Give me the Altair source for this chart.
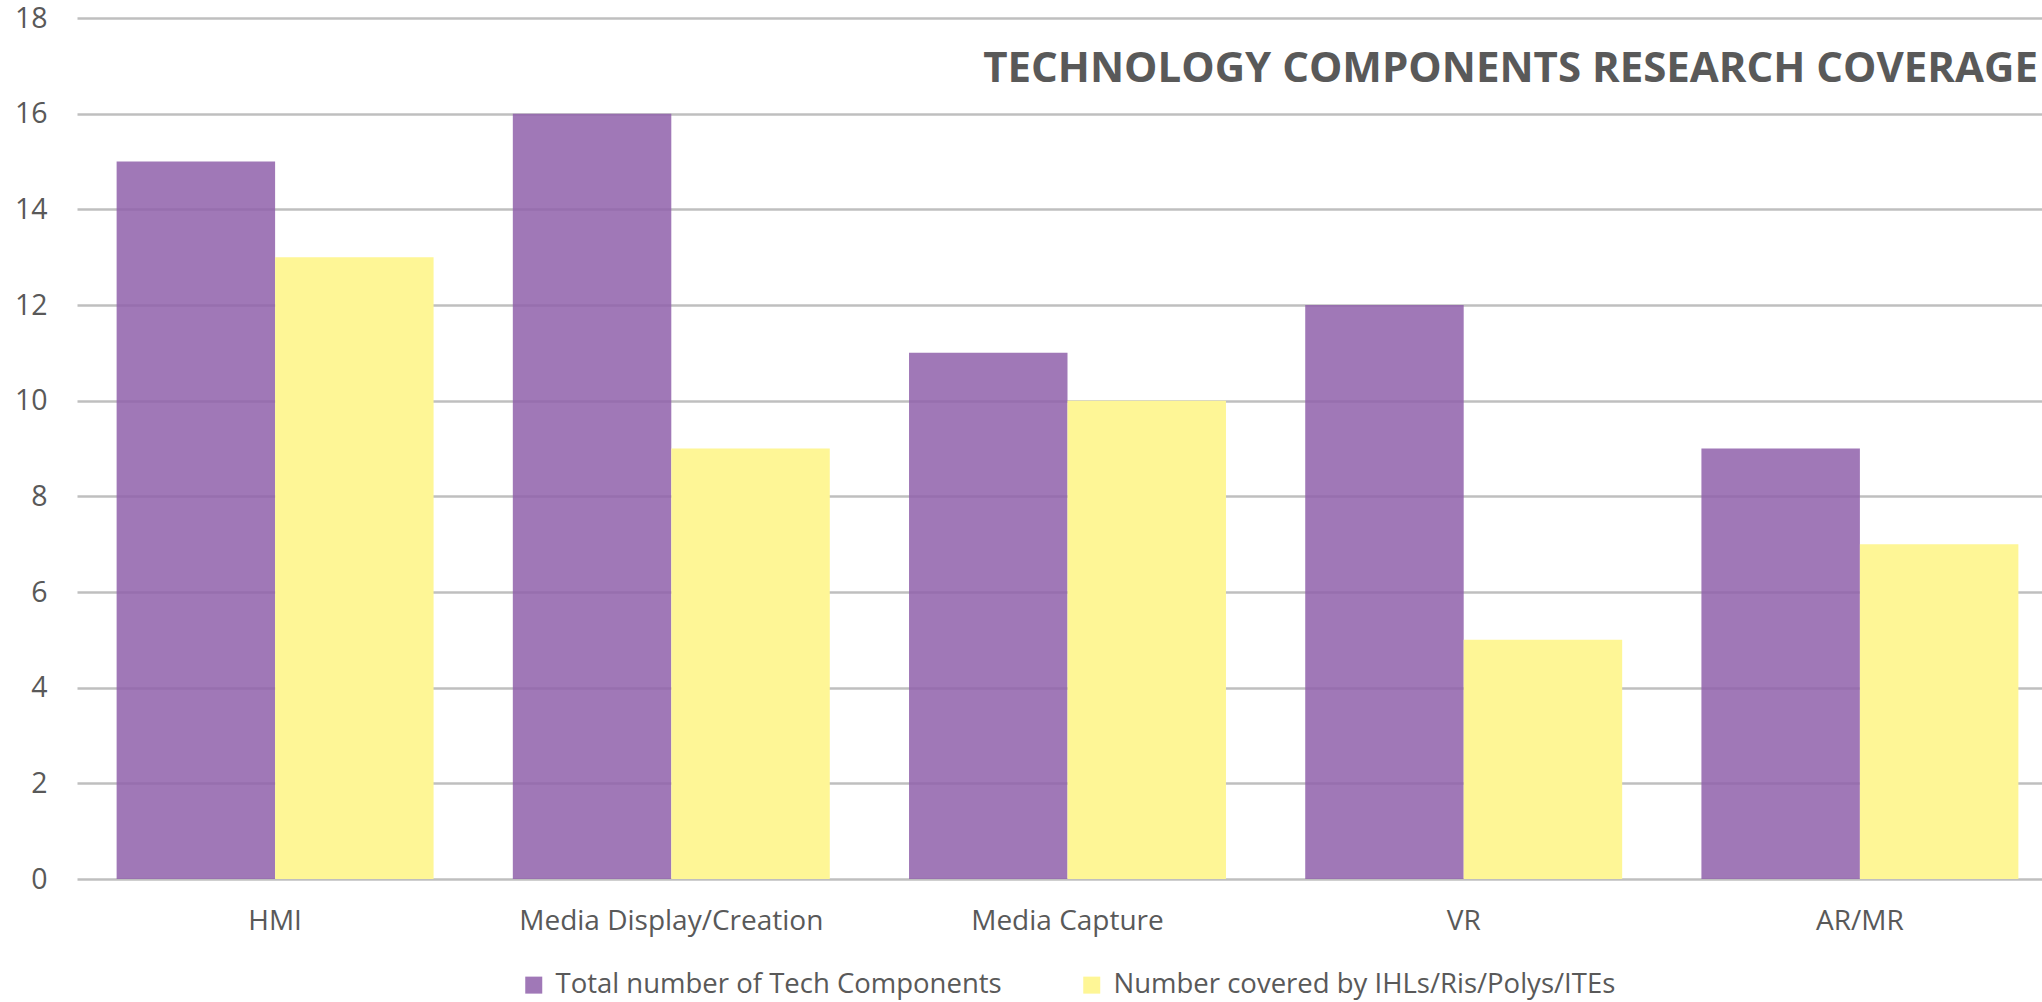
import altair as alt
import pandas as pd

categories = ["HMI", "Media Display/Creation", "Media Capture", "VR", "AR/MR"]
series_names = ["Total number of Tech Components", "Number covered by IHLs/Ris/Polys/ITEs"]
total_values = [15, 16, 11, 12, 9]
covered_values = [13, 9, 10, 5, 7]
y_ticks = [0, 2, 4, 6, 8, 10, 12, 14, 16, 18]
title_text = "TECHNOLOGY COMPONENTS RESEARCH COVERAGE"

rows = []
for c, t, v in zip(categories, total_values, covered_values):
    rows.append({"category": c, "series": series_names[0], "value": t})
    rows.append({"category": c, "series": series_names[1], "value": v})
df = pd.DataFrame(rows)

FONT = "Open Sans"
TEXT = "#595959"

bars = alt.Chart(df).mark_bar().encode(
    x=alt.X("category:N", sort=categories,
            scale=alt.Scale(paddingInner=0.2, paddingOuter=0.1, range=[0, 1981]),
            axis=alt.Axis(title=None, labelAngle=0, ticks=False, domain=False,
                          labelFontSize=28, labelColor=TEXT, labelFont=FONT,
                          labelPadding=28, labelLimit=0)),
    xOffset=alt.XOffset("series:N", sort=series_names,
                        scale=alt.Scale(paddingInner=0, paddingOuter=0)),
    y=alt.Y("value:Q", scale=alt.Scale(domain=[0, 18], nice=False),
            axis=alt.Axis(title=None, values=y_ticks, ticks=False, domain=False,
                          labelFontSize=28.5, labelColor=TEXT, labelFont=FONT,
                          labelPadding=30, gridColor="#BFBFBF", gridWidth=2.5)),
    color=alt.Color("series:N", sort=series_names,
                    scale=alt.Scale(domain=series_names, range=["#8F60AA", "#FEF696"]),
                    legend=alt.Legend(title=None, orient="none", direction="horizontal",
                                      legendX=443, legendY=953,
                                      labelFontSize=27.5, labelColor=TEXT, labelFont=FONT,
                                      symbolType="square", symbolSize=289,
                                      symbolStrokeWidth=0, columnPadding=76,
                                      labelOffset=8, labelLimit=0)),
    opacity=alt.Opacity("series:N", sort=series_names,
                        scale=alt.Scale(domain=series_names, range=[0.85, 1.0]),
                        legend=None),
)

title = alt.Chart(pd.DataFrame({"t": [title_text]})).mark_text(
    align="right", baseline="alphabetic", font=FONT, fontSize=42,
    fontWeight="bold", color=TEXT,
).encode(text="t:N", x=alt.value(1961), y=alt.value(64))

chart = alt.layer(bars, title).properties(
    width=1965,
    height=861,
    autosize=alt.AutoSizeParams(type="none"),
    padding={"left": 77, "top": 18, "right": 0, "bottom": 123},
).configure_view(stroke=None).configure_axisX(grid=False).configure_axisY(
    zindex=0
)

chart.save("out.html", embed_options={"renderer": "svg", "actions": False})
